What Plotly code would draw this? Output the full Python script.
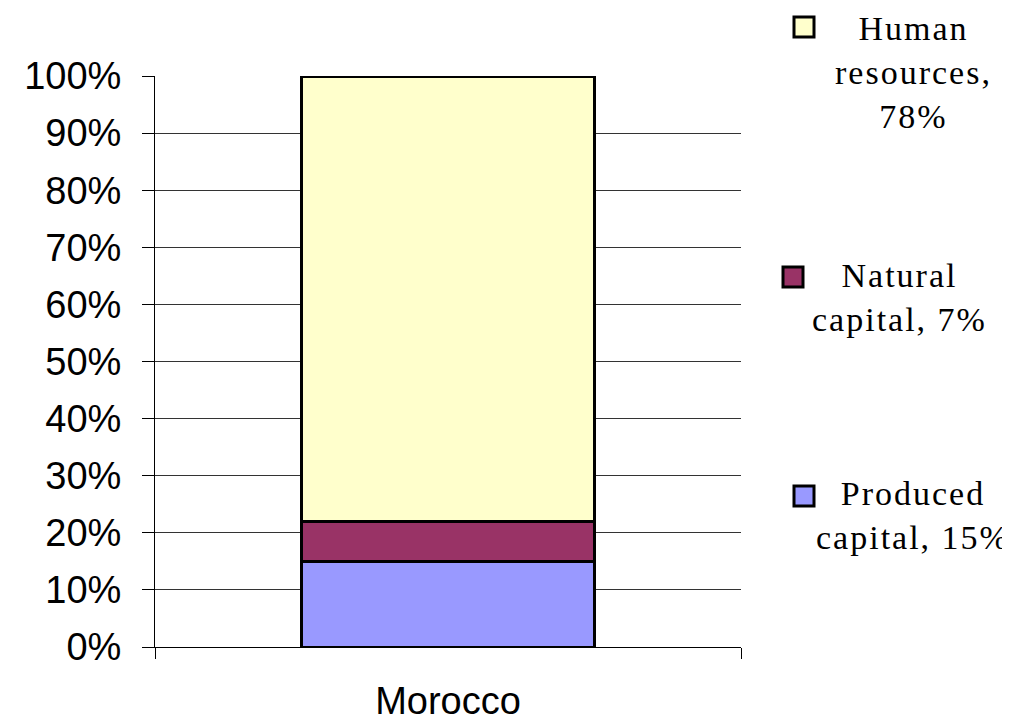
import plotly.graph_objects as go

categories = ["Morocco"]
series_names = ["Produced capital", "Natural capital", "Human resources"]
produced = [0.15]
natural = [0.07]
human = [0.78]
colors = ["#9999FF", "#993366", "#FFFFCC"]
legend_lines = [["Produced", "capital, 15%"], ["Natural", "capital, 7%"], ["Human", "resources,", "78%"]]
tick_vals = [i / 10 for i in range(11)]

OFF = 8  # page body margin
W, H = 1010 - OFF, 725 - OFF
L, T = 155 - OFF, 76 - OFF
R, B = W - (741 - OFF), H - (647 - OFF)
PW, PH = W - L - R, H - T - B

def px_x(px):
    return (px - OFF - L) / PW

def px_y(py):
    return (H - B - (py - OFF)) / PH

fig = go.Figure()
for name, vals, col in zip(series_names, [produced, natural, human], colors):
    fig.add_trace(go.Bar(x=categories, y=vals, name=name, marker=dict(color=col, line=dict(color="black", width=3)),
                         showlegend=False))

fig.update_layout(
    width=W, height=H, barmode="stack", bargap=0.5,
    margin=dict(l=L, r=R, t=T, b=B, autoexpand=False),
    plot_bgcolor="white", paper_bgcolor="white",
    xaxis=dict(showline=True, linecolor="black", linewidth=1, ticks="outside", ticklen=11, tickcolor="black",
               tickson="boundaries", tickfont=dict(family="Liberation Sans, Arial", size=38, color="black"),
               ticklabelstandoff=20, showgrid=False, automargin=False),
    yaxis=dict(range=[0, 1], tickvals=tick_vals, tickformat=".0%", showline=True, linecolor="black", linewidth=1,
               ticks="outside", ticklen=12, tickcolor="black", showgrid=True, gridcolor="#333", gridwidth=1,
               tickfont=dict(family="Liberation Sans, Arial", size=38, color="black"), ticklabelstandoff=13,
               zeroline=False, automargin=False),
)

# legend entries (squares + centered multi-line text)
sq = [(804, 496), (793, 277), (804, 27)]
txt = [(913, 515), (899, 297), (913, 73)]
for (sx, sy), (tx, ty), col, lines in zip(sq, txt, colors, legend_lines):
    fig.add_shape(type="rect", xref="paper", yref="paper",
                  x0=px_x(sx - 10), x1=px_x(sx + 10), y0=px_y(sy + 10), y1=px_y(sy - 10),
                  fillcolor=col, line=dict(color="black", width=3))
    lab = "<br>".join('<span style="letter-spacing:2px">%s</span>' % s for s in lines)
    fig.add_annotation(xref="paper", yref="paper", x=px_x(tx), y=px_y(ty), text=lab, showarrow=False,
                       xanchor="center", yanchor="middle", align="center",
                       font=dict(family="Liberation Serif, Times New Roman", size=34, color="black"))

fig.write_html("out.html")
